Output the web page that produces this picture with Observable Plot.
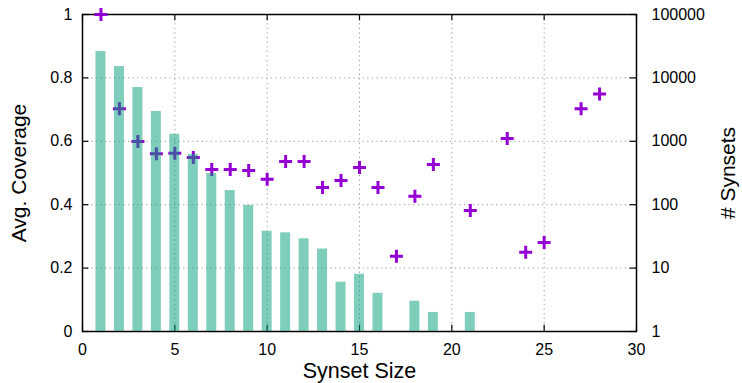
<!DOCTYPE html>
<html><head><meta charset="utf-8">
<script src="https://cdn.jsdelivr.net/npm/d3@7"></script>
<script src="https://cdn.jsdelivr.net/npm/@observablehq/plot@0.6"></script>
<style>
body{margin:0;background:#fff;}
#chart{position:relative;width:742px;height:383px;background:#fff;}
#chart svg{position:absolute;left:0;top:0;overflow:visible;}
</style></head><body><div id="chart"></div>
<script>
// Synset sizes present in the data
const sizes    = [1, 2, 3, 4, 5, 6, 7, 8, 9, 10, 11, 12, 13, 14, 15, 16, 17, 18, 19, 21, 23, 24, 25, 27, 28];
// Average coverage (left axis)
const coverage = [1.0, 0.703, 0.599, 0.561, 0.562, 0.549, 0.511, 0.511, 0.508, 0.48, 0.536, 0.536, 0.454, 0.476, 0.517, 0.454, 0.237, 0.427, 0.527, 0.382, 0.609, 0.25, 0.281, 0.703, 0.749];
// Number of synsets (right axis, log)
const synsets  = [26000, 15100, 7060, 2950, 1290, 620, 310, 167, 97, 38, 36, 29, 20, 6, 8, 4, 1, 3, 2, 2, 1, 1, 1, 1, 1];

const xTicks  = [0, 5, 10, 15, 20, 25, 30];
const xGrid   = [5, 10, 15, 20, 25];
const yTicks  = [0, 0.2, 0.4, 0.6, 0.8, 1];
const yGrid   = [0.2, 0.4, 0.6, 0.8];
const y2Ticks = [1, 10, 100, 1000, 10000, 100000];

const rows = sizes.map((s, i) => ({size: s, coverage: coverage[i], count: synsets[i]}));

const plusSym = {
  draw(ctx, size) {
    const r = Math.sqrt(size / Math.PI);
    ctx.moveTo(-r, 0); ctx.lineTo(r, 0);
    ctx.moveTo(0, -r); ctx.lineTo(0, r);
  }
};

const common = {
  width: 742, height: 383,
  marginLeft: 82, marginRight: 106, marginTop: 14, marginBottom: 52,
  style: {fontFamily: "'Liberation Sans', Arial, sans-serif", fontSize: "16px", color: "black", background: "transparent", overflow: "visible"}
};

const gridStyle = {stroke: "#999", strokeDasharray: "1.2,3.4", strokeWidth: 1, strokeOpacity: 1};

const layerBottom = Plot.plot({
  ...common,
  x: {domain: [0, 30]},
  y: {domain: [0, 1]},
  marks: [
    Plot.ruleX(xGrid, gridStyle),
    Plot.ruleY(yGrid, gridStyle),
    Plot.ruleY(yTicks, {x1: 0, x2: 0.35, stroke: "black", strokeWidth: 1.2}),
    Plot.ruleY(yTicks, {x1: 29.65, x2: 30, stroke: "black", strokeWidth: 1.2}),
    Plot.ruleX(xTicks, {y1: 0, y2: 0.02, stroke: "black", strokeWidth: 1.2}),
    Plot.ruleX(xTicks, {y1: 0.98, y2: 1, stroke: "black", strokeWidth: 1.2}),
    Plot.frame({stroke: "black", strokeWidth: 1.5}),
    Plot.dot(rows, {x: "size", y: "coverage", symbol: plusSym, r: 6.5, stroke: "#9400d3", strokeWidth: 3, fill: "none"}),
    Plot.axisY(yTicks, {tickSize: 0, tickPadding: 10, tickFormat: d => String(d), label: null, fontSize: 16}),
    Plot.axisX(xTicks, {tickSize: 0, tickPadding: 12, tickFormat: d => String(d), label: null, fontSize: 16})
  ]
});

const titleOpts = {text: d => d, textAnchor: "middle", lineAnchor: "middle", fontSize: 21};

const layerTop = Plot.plot({
  ...common,
  x: {domain: [0, 30], axis: null},
  y: {type: "log", domain: [1, 100000]},
  marks: [
    Plot.rect(rows.filter(d => d.count > 1), {x1: d => d.size - 0.27, x2: d => d.size + 0.27, y1: 1, y2: "count", fill: "#009b77", fillOpacity: 0.5}),
    Plot.axisY(y2Ticks, {anchor: "right", tickSize: 0, tickPadding: 15, tickFormat: d => String(d), label: null, fontSize: 16}),
    Plot.text(["Avg. Coverage"], {...titleOpts, frameAnchor: "left", dx: -63.5, rotate: -90}),
    Plot.text(["# Synsets"], {...titleOpts, frameAnchor: "right", dx: 92, rotate: -90}),
    Plot.text(["Synset Size"], {...titleOpts, frameAnchor: "bottom", dy: 39.5, fontSize: 21.5})
  ]
});

const el = document.getElementById("chart");
el.appendChild(layerBottom);
el.appendChild(layerTop);
</script>
</body></html>
